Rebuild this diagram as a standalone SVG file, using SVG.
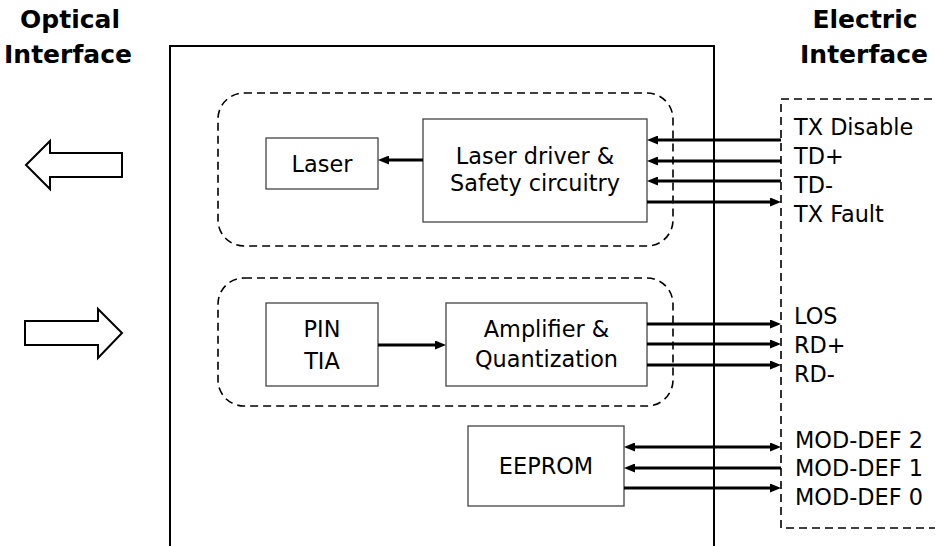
<svg xmlns="http://www.w3.org/2000/svg" width="935" height="546" viewBox="0 0 935 546">
<style>
text{font-family:"DejaVu Sans","Verdana",sans-serif;font-size:22.4px;fill:#000;}
.title{font-weight:bold;font-size:25px;text-anchor:middle;}
.c{text-anchor:middle;}
.box{fill:#fff;stroke:#444;stroke-width:1.3;}
.dash{fill:none;stroke:#000;stroke-width:1.6;stroke-dasharray:8 5;}
.frame{fill:none;stroke:#000;stroke-width:2;}
.big{fill:#fff;stroke:#000;stroke-width:2;stroke-linejoin:miter;}
.con{fill:none;stroke:#000;stroke-width:3;}
</style>
<defs>
<marker id="ah" markerWidth="11" markerHeight="9" refX="5" refY="4.5" orient="auto-start-reverse" markerUnits="userSpaceOnUse"><path d="M0,0 L11,4.5 L0,9 z" fill="#000"/></marker>
</defs>
<rect width="935" height="546" fill="#fff"/>
<g id="titles">
<text class="title" x="70" y="28">Optical</text>
<text class="title" x="68" y="63">Interface</text>
<text class="title" x="865" y="28">Electric</text>
<text class="title" x="864" y="63">Interface</text>
</g>
<g id="module"><path class="frame" d="M170,550 V46 H714 V550"/></g>
<g id="optical-out"><path class="big" d="M26,165 L50,141 L50,153 L122,153 L122,177 L50,177 L50,189 Z"/></g>
<g id="optical-in"><path class="big" d="M25,321 L98,321 L98,309 L122,333 L98,358 L98,345 L25,345 Z"/></g>
<g id="tx-group"><rect class="dash" x="218" y="93" width="455" height="153" rx="26"/></g>
<g id="rx-group"><rect class="dash" x="218" y="278" width="455" height="128" rx="26"/></g>
<g id="electric"><path class="dash" d="M945,99 H781 V528 H945"/></g>
<g id="laser"><rect class="box" x="266" y="138" width="112" height="51"/><text class="c" x="322" y="172">Laser</text></g>
<g id="driver"><rect class="box" x="423" y="119" width="224" height="103"/><text class="c" x="535" y="164">Laser driver &amp;</text><text class="c" x="535" y="191">Safety circuitry</text></g>
<g id="pin"><rect class="box" x="266" y="303" width="112" height="83"/><text class="c" x="322" y="337">PIN</text><text class="c" x="322" y="369">TIA</text></g>
<g id="amp"><rect class="box" x="446" y="303" width="201" height="83"/><text class="c" x="546.5" y="337">Amplifier &amp;</text><text class="c" x="546.5" y="367">Quantization</text></g>
<g id="eeprom"><rect class="box" x="468" y="426" width="156" height="80"/><text class="c" x="546" y="474">EEPROM</text></g>
<g id="labels">
<text x="794" y="135">TX Disable</text>
<text x="794" y="164">TD+</text>
<text x="794" y="193">TD-</text>
<text x="794" y="222">TX Fault</text>
<text x="794" y="324">LOS</text>
<text x="794" y="353">RD+</text>
<text x="794" y="382">RD-</text>
<text x="795" y="448">MOD-DEF 2</text>
<text x="795" y="476">MOD-DEF 1</text>
<text x="795" y="505">MOD-DEF 0</text>
</g>
<g id="connectors">
<path class="con" d="M423,160 H384" marker-end="url(#ah)"/>
<path class="con" d="M781,140 H653" marker-end="url(#ah)"/>
<path class="con" d="M781,161 H653" marker-end="url(#ah)"/>
<path class="con" d="M781,181 H653" marker-end="url(#ah)"/>
<path class="con" d="M647,202 H775" marker-end="url(#ah)"/>
<path class="con" d="M378,345 H440" marker-end="url(#ah)"/>
<path class="con" d="M647,324 H775" marker-end="url(#ah)"/>
<path class="con" d="M647,344 H775" marker-end="url(#ah)"/>
<path class="con" d="M647,365 H775" marker-end="url(#ah)"/>
<path class="con" d="M630,447 H775" marker-start="url(#ah)" marker-end="url(#ah)"/>
<path class="con" d="M781,468 H630" marker-end="url(#ah)"/>
<path class="con" d="M624,488 H775" marker-end="url(#ah)"/>
</g>
</svg>
